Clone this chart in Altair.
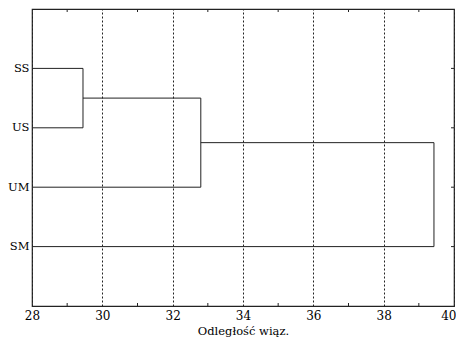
import altair as alt
import pandas as pd

# Data
leaf_labels = ["SS", "US", "UM", "SM"]
leaf_pos = [1, 2, 3, 4]
merge_heights = [29.45, 32.8, 39.43]   # distance at which the next leaf joins the cluster
x_min = 28
x_ticks = [28, 30, 32, 34, 36, 38, 40]
minor_ticks = [29, 31, 33, 35, 37, 39]

# Build dendrogram segments (sequential agglomeration)
segs = []
h = merge_heights[0]
segs.append(dict(x=x_min, x2=h, y=leaf_pos[0], y2=leaf_pos[0]))
segs.append(dict(x=x_min, x2=h, y=leaf_pos[1], y2=leaf_pos[1]))
segs.append(dict(x=h, x2=h, y=leaf_pos[0], y2=leaf_pos[1]))
cl_y = (leaf_pos[0] + leaf_pos[1]) / 2
cl_x = h
for i in range(1, len(merge_heights)):
    h = merge_heights[i]
    leaf = leaf_pos[i + 1]
    segs.append(dict(x=cl_x, x2=h, y=cl_y, y2=cl_y))
    segs.append(dict(x=x_min, x2=h, y=leaf, y2=leaf))
    segs.append(dict(x=h, x2=h, y=cl_y, y2=leaf))
    cl_y = (cl_y + leaf) / 2
    cl_x = h
seg_df = pd.DataFrame(segs)

W, H = 422, 297
FONT = "DejaVu Serif"
label_expr = "{" + ",".join(f"'{p}':'{l}'" for p, l in zip(leaf_pos, leaf_labels)) + "}[datum.value]"

xscale = alt.Scale(domain=[28, 40], nice=False, zero=False)
yscale = alt.Scale(domain=[0, 5], reverse=True, nice=False, zero=False)

base = alt.Chart(seg_df).mark_rule(color="#222", strokeWidth=1).encode(
    x=alt.X("x:Q", scale=xscale,
            axis=alt.Axis(values=x_ticks, title="Odległość wiąz.", grid=True,
                          gridDash=[2, 2], gridColor="#222", gridOpacity=1,
                          ticks=False, domain=False, labelFont=FONT, labelFontSize=12,
                          labelColor="#000", labelPadding=4, titleFont=FONT,
                          titleFontSize=11.5, titleFontWeight="normal", titleColor="#000",
                          titleBaseline="alphabetic", titleY=28, labelFlush=False,
                          labelAlign=alt.ExprRef(expr="datum.value == 40 ? 'right' : 'center'"),
                          labelOffset=alt.ExprRef(expr="datum.value == 40 ? 2 : 0"))),
    x2="x2:Q",
    y=alt.Y("y:Q", scale=yscale,
            axis=alt.Axis(values=leaf_pos, labelExpr=label_expr, title=None, grid=False,
                          ticks=False, domain=False, labelFont=FONT, labelFontSize=11.5,
                          labelColor="#000", labelPadding=3)),
    y2="y2:Q",
)

minor_df = pd.DataFrame({"m": minor_ticks})
top_ticks = alt.Chart(minor_df).mark_rule(color="#222").encode(
    x=alt.X("m:Q", scale=xscale), y=alt.value(0), y2=alt.value(3))
bot_ticks = alt.Chart(minor_df).mark_rule(color="#222").encode(
    x=alt.X("m:Q", scale=xscale), y=alt.value(H), y2=alt.value(H - 3))

right_df = pd.DataFrame({"p": leaf_pos})
right_ticks = alt.Chart(right_df).mark_rule(color="#222").encode(
    y=alt.Y("p:Q", scale=yscale), x=alt.value(W - 3), x2=alt.value(W))

chart = alt.layer(base, top_ticks, bot_ticks, right_ticks).properties(
    width=W, height=H,
    autosize=alt.AutoSizeParams(type="none"),
    padding={"left": 24, "top": 1, "right": 2, "bottom": 31},
    background="white",
).configure_view(stroke="#222", strokeWidth=1.2)

chart.save("out.html", embed_options={"renderer": "svg", "actions": False})
